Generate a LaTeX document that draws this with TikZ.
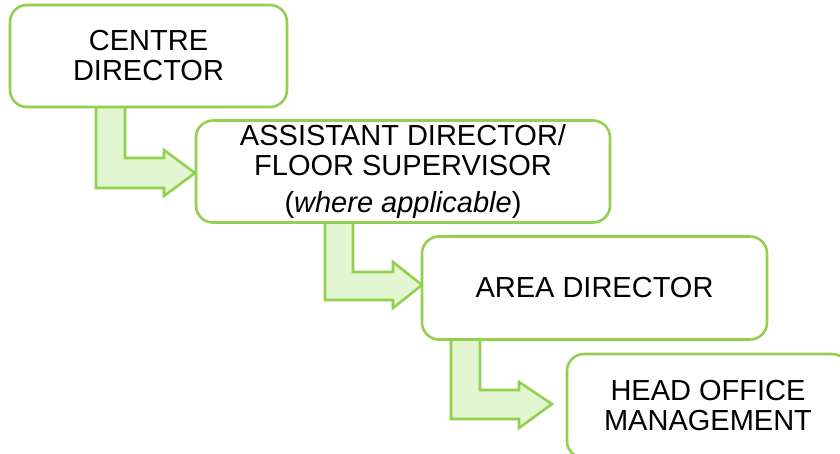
\documentclass[tikz,border=0pt]{standalone}
\usepackage{fontspec}
\setmainfont{Liberation Sans}
\definecolor{lgreen}{HTML}{92D050}
\definecolor{lfill}{HTML}{E2F6D2}
\begin{document}
\begin{tikzpicture}[x=1pt,y=-1pt,
  rolebox/.style={draw=lgreen, line width=2.6pt, fill=white, rounded corners=17pt,
    align=center, inner sep=0pt, font=\fontsize{29}{30}\selectfont},
  bentarrow/.style={draw=lgreen, line width=2.6pt, fill=lfill, line join=miter}]
\useasboundingbox (0,0) rectangle (840,454);
\clip (0,0) rectangle (840,454);
% bent arrows (shapes)
\draw[bentarrow] (96,100) -- (96,188) -- (164,188) -- (164,196) -- (195,173) -- (164,150) -- (164,158) -- (125,158) -- (125,100) -- cycle;
\draw[bentarrow] (325,215) -- (325,300) -- (393,300) -- (393,308) -- (422,285) -- (393,262) -- (393,272) -- (353,272) -- (353,215) -- cycle;
\draw[bentarrow] (451,332) -- (451,419) -- (519,419) -- (519,428) -- (552,404) -- (519,382) -- (519,390) -- (480,390) -- (480,332) -- cycle;
% boxes
\node[rolebox, minimum width=277pt, minimum height=102pt] (cd) at (148.5,56) {CENTRE\\DIRECTOR};
\node[rolebox, minimum width=414pt, minimum height=102pt] (ad) at (403,171.5) {ASSISTANT DIRECTOR/\\FLOOR SUPERVISOR\\[7pt](\textit{where applicable})};
\node[rolebox, minimum width=345pt, minimum height=103pt] (ar) at (594.5,288) {AREA DIRECTOR};
\node[rolebox, minimum width=282pt, minimum height=104pt] (ho) at (708,406) {HEAD OFFICE\\MANAGEMENT};
\end{tikzpicture}
\end{document}
